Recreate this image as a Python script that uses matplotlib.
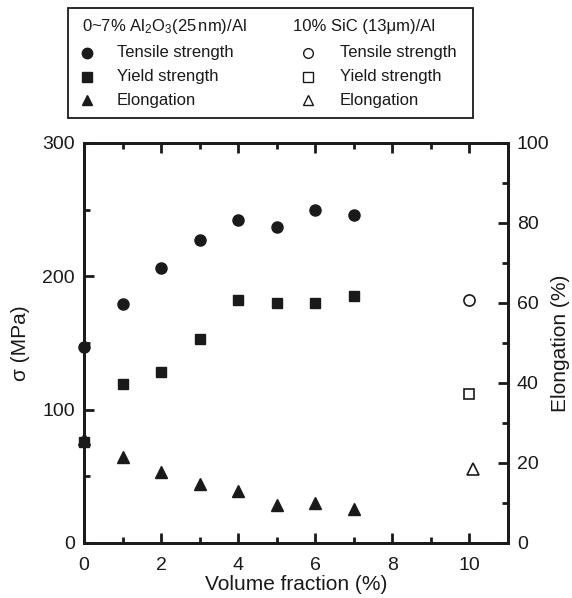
import matplotlib.pyplot as plt
from matplotlib.lines import Line2D
from matplotlib.patches import Rectangle
from matplotlib.ticker import MultipleLocator

plt.rcParams['font.family'] = ['Liberation Sans', 'DejaVu Sans']
plt.rcParams['mathtext.fontset'] = 'custom'
plt.rcParams['mathtext.rm'] = 'Liberation Sans'
plt.rcParams['mathtext.it'] = 'Liberation Sans'

# Al2O3 nano-particle composites, 0-7 vol%
vf = [0, 1, 2, 3, 4, 5, 6, 7]
tensile = [147, 179, 206, 227, 242, 237, 250, 246]
yield_s = [76, 119, 128, 153, 182, 180, 180, 185]
elong = [26, 21.4, 17.7, 14.8, 13, 9.6, 10, 8.4]

# 10% SiC micro-particle composite
sic_vf = 10
sic_tensile = 182
sic_yield = 112
sic_elong = 18.5

ink = '#1a1a1a'

fig = plt.figure(figsize=(5.72, 5.98), dpi=100)
ax = fig.add_axes([0.147, 0.092, 0.741, 0.669])
ax2 = ax.twinx()

ms = 8
ax.plot(vf, tensile, 'o', color=ink, ms=ms, clip_on=False, zorder=5)
ax.plot(vf, yield_s, 's', color=ink, ms=ms - 0.5, clip_on=False, zorder=5)
ax2.plot(vf, elong, '^', color=ink, ms=ms, clip_on=False, zorder=5)
ax.plot([sic_vf], [sic_tensile], 'o', mfc='white', mec=ink, mew=1.2, ms=ms, zorder=5)
ax.plot([sic_vf], [sic_yield], 's', mfc='white', mec=ink, mew=1.2, ms=ms - 0.5, zorder=5)
ax2.plot([sic_vf + 0.1], [sic_elong], '^', mfc='white', mec=ink, mew=1.2, ms=ms + 1, zorder=5)

ax.set_xlim(0, 11)
ax.set_ylim(0, 300)
ax2.set_ylim(0, 100)

ax.xaxis.set_major_locator(MultipleLocator(2))
ax.xaxis.set_minor_locator(MultipleLocator(1))
ax.yaxis.set_major_locator(MultipleLocator(100))
ax.yaxis.set_minor_locator(MultipleLocator(50))
ax2.yaxis.set_major_locator(MultipleLocator(20))
ax2.yaxis.set_minor_locator(MultipleLocator(10))

ax.tick_params(axis='x', which='both', direction='in', top=True, width=2,
               labelsize=14, pad=10, colors=ink)
ax.tick_params(axis='y', which='both', direction='in', right=False, width=2,
               labelsize=14, pad=6.5, colors=ink)
ax2.tick_params(axis='y', which='both', direction='in', width=2,
                labelsize=14, pad=6.5, colors=ink)
for a in (ax, ax2):
    a.tick_params(which='major', length=7)
    a.tick_params(which='minor', length=4)
    for s in a.spines.values():
        s.set_linewidth(2)
        s.set_color(ink)

ax.set_xlabel('Volume fraction (%)', fontsize=15, labelpad=1, color=ink)
ax.set_ylabel('σ (MPa)', fontsize=15, labelpad=9, color=ink)
ax2.set_ylabel('Elongation (%)', fontsize=15, rotation=90, labelpad=1, color=ink)

# legend box drawn in figure pixels
W, H = 572, 598


def fx(px):
    return px / W


def fy(py):
    return 1 - py / H


fig.add_artist(Rectangle((fx(68), fy(118)), fx(473) - fx(68), fy(8) - fy(118),
                         transform=fig.transFigure, fill=False,
                         ec=ink, lw=1.3))

fs = 12
fig.text(fx(82), fy(27), r'0~7% Al$_2$O$_3$(25$\,$nm)/Al', fontsize=fs,
         va='center', color=ink)
fig.text(fx(293), fy(27), '10% SiC (13\u03bcm)/Al', fontsize=fs,
         va='center', color=ink)

labels = ['Tensile strength', 'Yield strength', 'Elongation']
markers = ['o', 's', '^']
rows = [53, 77, 100]
for lab, m, ry in zip(labels, markers, rows):
    fig.add_artist(Line2D([fx(87)], [fy(ry)], marker=m, ls='none', ms=7.5,
                          color=ink, transform=fig.transFigure))
    fig.text(fx(117), fy(ry), lab, fontsize=fs, va='center', color=ink)
    fig.add_artist(Line2D([fx(308)], [fy(ry)], marker=m, ls='none', ms=7,
                          mfc='white', mec=ink, mew=1,
                          transform=fig.transFigure))
    fig.text(fx(340), fy(ry), lab, fontsize=fs, va='center', color=ink)

fig.savefig('out.png', dpi=100)
